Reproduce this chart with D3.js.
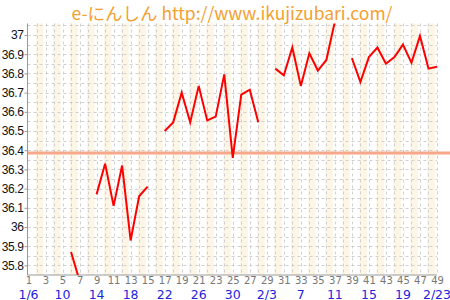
<!DOCTYPE html>
<html>
<head>
<meta charset="utf-8">
<script src="https://cdn.jsdelivr.net/npm/d3@7"></script>
<style>
body { margin: 0; background: #fff; }
svg { display: block; }
</style>
</head>
<body>
<svg width="450" height="300"></svg>
<script>
// day number 1..49, value null = not measured
var days = d3.range(1, 50);
var temps = [null, null, null, null, null, 35.87, 35.72, null,
  36.17, 36.33, 36.11, 36.32, 35.93, 36.16, 36.21, null,
  36.50, 36.545, 36.70, 36.545, 36.735, 36.555, 36.575, 36.795, 36.36, 36.69, 36.715, 36.545, null,
  36.825, 36.79, 36.935, 36.735, 36.905, 36.815, 36.87, 37.07, null,
  36.88, 36.755, 36.885, 36.935, 36.85, 36.885, 36.95, 36.855, 36.995, 36.825, 36.835];
var yTicks = [35.8, 35.9, 36, 36.1, 36.2, 36.3, 36.4, 36.5, 36.6, 36.7, 36.8, 36.9, 37];
var dayTicks = d3.range(1, 50, 2);
var dateDays = [1, 5, 9, 13, 17, 21, 25, 29, 33, 37, 41, 45, 49];
var dateLabels = ['1/6', '10', '14', '18', '22', '26', '30', '2/3', '7', '11', '15', '19', '2/23'];
var baseline = 36.385;
var title = 'e-にんしん http://www.ikujizubari.com/';

var svg = d3.select('svg');
var x = d3.scaleLinear().domain([1, 49]).range([28.5, 437]);
var y = d3.scaleLinear().domain([35.75, 37.06]).range([275, 23.5]);
// plot box (don't call it "top", that's window.top)
var pL = 27.5, pR = 437, pT = 23.5, pB = 275;

svg.append('defs').append('clipPath').attr('id', 'clip')
  .append('rect').attr('x', pL).attr('y', pT).attr('width', pR - pL).attr('height', pB - pT);

// beige bands on even days
svg.append('g').selectAll('rect')
  .data(days.filter(d => d % 2 == 0))
  .enter().append('rect')
  .attr('x', d => x(d) - 1)
  .attr('y', pT)
  .attr('width', 7.5)
  .attr('height', pB - pT)
  .style('fill', '#fdf6e6');

// grid
var hg = d3.range(35.8, 37.06, 0.05);
svg.append('g').selectAll('line')
  .data(hg).enter().append('line')
  .attr('x1', pL).attr('x2', pR)
  .attr('y1', d => Math.round(y(d)) + 0.5).attr('y2', d => Math.round(y(d)) + 0.5)
  .style('stroke', '#d0d0d0').style('stroke-dasharray', '3,3');
svg.append('g').selectAll('line')
  .data(days.slice(1)).enter().append('line')
  .attr('x1', d => Math.round(x(d)) + 0.5).attr('x2', d => Math.round(x(d)) + 0.5)
  .attr('y1', pT).attr('y2', pB)
  .style('stroke', '#d0d0d0').style('stroke-dasharray', '3,3');

// reference line
svg.append('line')
  .attr('x1', pL).attr('x2', 450)
  .attr('y1', y(baseline)).attr('y2', y(baseline))
  .style('stroke', '#f8a88a').style('stroke-width', 3);

// axes
var yAxis = svg.append('g').attr('transform', `translate(${pL},0)`)
  .call(d3.axisLeft(y).tickValues(yTicks).tickSize(3).tickPadding(1).tickFormat(d3.format('')));
yAxis.select('.domain').attr('d', `M0,${pT}V${pB}`).style('stroke', '#999');
yAxis.selectAll('.tick line').style('stroke', '#999');
yAxis.selectAll('text').style('font-family', '"Liberation Sans", Arial, sans-serif')
  .style('font-size', '12px').style('letter-spacing', '-0.4px').style('fill', '#111');

var xAxis = svg.append('g').attr('transform', `translate(0,${pB})`)
  .call(d3.axisBottom(x).tickValues(dayTicks).tickSize(0).tickPadding(1.5).tickFormat(d3.format('d')));
xAxis.select('.domain').attr('d', `M${pL},0H${pR}`).style('stroke', '#999');
xAxis.selectAll('text').style('font-family', '"DejaVu Sans", sans-serif')
  .style('font-size', '10px').style('fill', '#777');

svg.append('g').selectAll('text')
  .data(dateDays).enter().append('text')
  .attr('x', d => x(d)).attr('y', 298.5)
  .attr('text-anchor', 'middle')
  .style('font-family', '"DejaVu Sans", sans-serif').style('font-size', '12.5px')
  .style('fill', '#2424dc')
  .text((d, i) => dateLabels[i]);

// temperature line
var line = d3.line()
  .defined(d => d[1] != null)
  .x(d => x(d[0])).y(d => y(d[1]));
svg.append('path')
  .datum(days.map((d, i) => [d, temps[i]]))
  .attr('clip-path', 'url(#clip)')
  .attr('d', line)
  .style('fill', 'none').style('stroke', '#ff0000').style('stroke-width', 2);

// title
svg.append('text')
  .attr('x', 232).attr('y', 19.5)
  .attr('text-anchor', 'middle')
  .style('font-family', '"Noto Sans CJK JP", sans-serif').style('font-size', '17.5px')
  .style('fill', '#f4a030')
  .text(title);
</script>
</body>
</html>
